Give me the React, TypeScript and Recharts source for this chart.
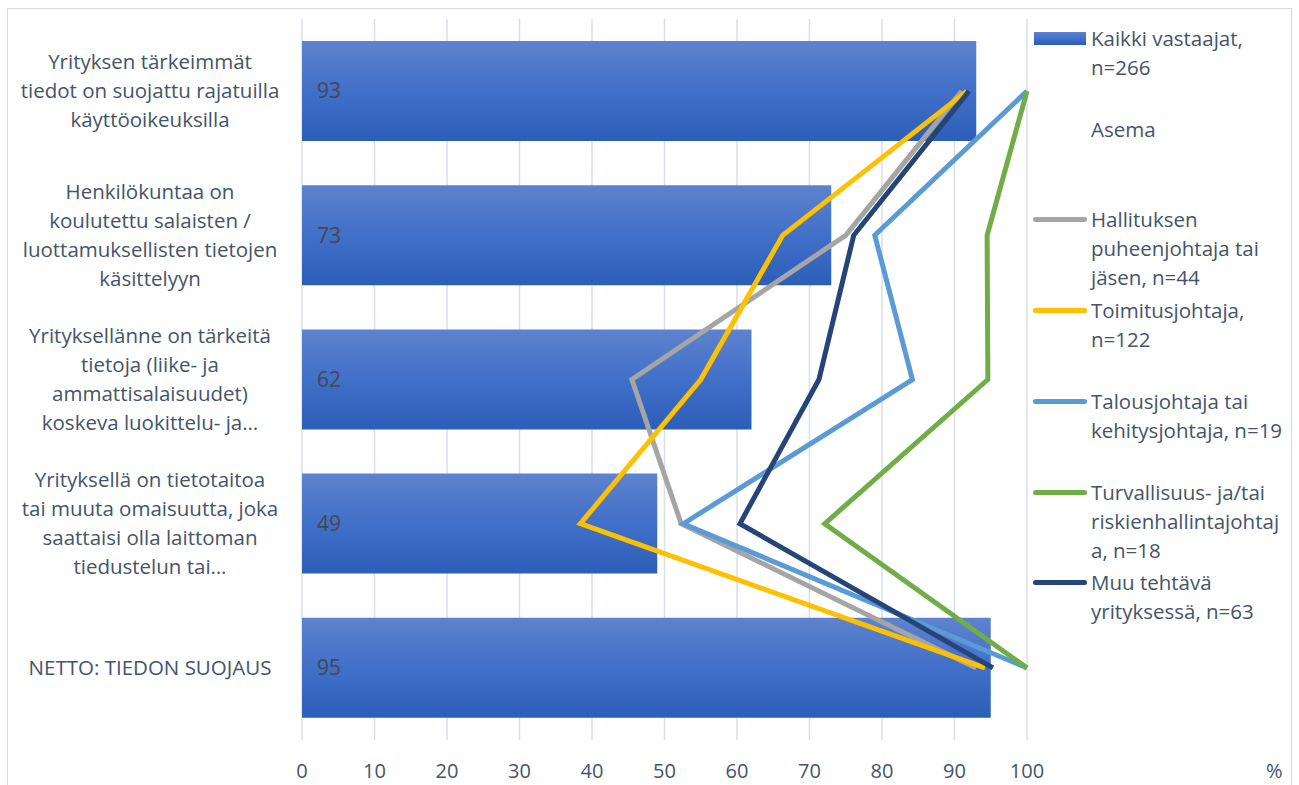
import React from "react";
import {
  ComposedChart,
  Bar,
  Line,
  XAxis,
  YAxis,
  CartesianGrid,
  LabelList,
} from "recharts";

// Questions shown on the category axis (wrapped lines)
const categoryLines: string[][] = [
  ["Yrityksen tärkeimmät", "tiedot on suojattu rajatuilla", "käyttöoikeuksilla"],
  ["Henkilökuntaa on", "koulutettu salaisten /", "luottamuksellisten tietojen", "käsittelyyn"],
  ["Yrityksellänne on tärkeitä", "tietoja (liike- ja", "ammattisalaisuudet)", "koskeva luokittelu- ja…"],
  ["Yrityksellä on tietotaitoa", "tai muuta omaisuutta, joka", "saattaisi olla laittoman", "tiedustelun tai…"],
  ["NETTO: TIEDON SUOJAUS"],
];
const categories = categoryLines.map((l) => l.join(" "));

// Percentages
const allRespondents = [93, 73, 62, 49, 95];
const boardMember = [91, 75, 45.5, 52.3, 93];
const ceo = [91.7, 66.3, 55, 38.4, 94.2];
const financeDirector = [100, 79, 84.2, 52.6, 100];
const securityDirector = [100, 94.5, 94.6, 72.1, 100];
const otherRole = [92, 76.1, 71.3, 60.4, 95.3];

const xTicks = [0, 10, 20, 30, 40, 50, 60, 70, 80, 90, 100];

const lineSeries = [
  { key: "board", color: "#A5A5A5", lines: ["Hallituksen", "puheenjohtaja tai", "jäsen, n=44"] },
  { key: "ceo", color: "#FFC000", lines: ["Toimitusjohtaja,", "n=122"] },
  { key: "finance", color: "#5B9BD5", lines: ["Talousjohtaja tai", "kehitysjohtaja, n=19"] },
  { key: "security", color: "#70AD47", lines: ["Turvallisuus- ja/tai", "riskienhallintajohtaj", "a, n=18"] },
  { key: "other", color: "#264478", lines: ["Muu tehtävä", "yrityksessä, n=63"] },
];

const data = categories.map((name, i) => ({
  name,
  all: allRespondents[i],
  board: boardMember[i],
  ceo: ceo[i],
  finance: financeDirector[i],
  security: securityDirector[i],
  other: otherRole[i],
}));

const FONT = "'Open Sans', sans-serif";
const TEXT = "#44546A";

const CategoryTick = (props: any) => {
  const { x, y, index } = props;
  const lines = categoryLines[index] || [];
  const lh = 29;
  const y0 = y - ((lines.length - 1) * lh) / 2;
  const cx = x - 144;
  return (
    <text x={cx} y={y0} textAnchor="middle" fill={TEXT} fontSize={20.5} fontFamily={FONT}>
      {lines.map((l, i) => (
        <tspan key={i} x={cx} y={y0 + i * lh} dy="0.35em">
          {l}
        </tspan>
      ))}
    </text>
  );
};

const legendRow = 90.7;
const legendLH = 29;

const LegendBlock = () => {
  const entries = [
    { kind: "bar", color: "", lines: ["Kaikki vastaajat,", "n=266"] },
    { kind: "none", color: "", lines: ["Asema"] },
    ...lineSeries.map((s) => ({ kind: "line", color: s.color, lines: s.lines })),
  ];
  return (
    <div style={{ position: "absolute", left: 1033, top: 24, width: 262, fontFamily: FONT, fontSize: 20.5, color: TEXT }}>
      {entries.map((e, i) => (
        <div key={i} style={{ position: "absolute", top: i * legendRow, left: 0, width: 262 }}>
          {e.kind === "bar" && (
            <div
              style={{
                position: "absolute",
                left: 1,
                top: 8,
                width: 52,
                height: 13,
                background: "linear-gradient(#5E82CE, #4170C8 50%, #2C5EB8)",
              }}
            />
          )}
          {e.kind === "line" && (
            <div
              style={{
                position: "absolute",
                left: 0,
                top: 12,
                width: 54,
                height: 5,
                borderRadius: 3,
                background: e.color,
              }}
            />
          )}
          <div style={{ position: "absolute", left: 58, top: 0, lineHeight: `${legendLH}px`, whiteSpace: "nowrap" }}>
            {e.lines.map((l, j) => (
              <div key={j}>{l}</div>
            ))}
          </div>
        </div>
      ))}
    </div>
  );
};

export default function App() {
  return (
    <div style={{ position: "absolute", left: 0, top: 0, width: 1299, height: 785, background: "#fff", overflow: "hidden" }}>
      <div
        style={{
          position: "absolute",
          left: 7,
          top: 8,
          width: 1285,
          height: 800,
          border: "1.5px solid #D9D9D9",
          boxSizing: "border-box",
        }}
      />
      <ComposedChart
        width={1299}
        height={785}
        data={data}
        layout="vertical"
        margin={{ top: 19, right: 272, bottom: 15, left: 7 }}
        style={{ position: "absolute", left: 0, top: 0 }}
      >
        <defs>
          <linearGradient id="barFill" x1="0" y1="0" x2="0" y2="1">
            <stop offset="0%" stopColor="#5E82CE" />
            <stop offset="50%" stopColor="#4170C8" />
            <stop offset="100%" stopColor="#2C5EB8" />
          </linearGradient>
        </defs>
        <CartesianGrid horizontal={false} stroke="#D9DEE7" strokeWidth={1.5} />
        <XAxis
          type="number"
          domain={[0, 100]}
          ticks={xTicks}
          interval={0}
          axisLine={false}
          tickLine={false}
          tickMargin={18}
          height={30}
          tick={{ fill: TEXT, fontSize: 20, fontFamily: FONT }}
        />
        <YAxis
          type="category"
          dataKey="name"
          width={295}
          axisLine={false}
          tickLine={false}
          interval={0}
          tick={<CategoryTick />}
        />
        <Bar dataKey="all" fill="url(#barFill)" barSize={100} isAnimationActive={false}>
          <LabelList
            dataKey="all"
            position="insideLeft"
            offset={15}
            fill="#43484F"
            fontSize={21}
            fontFamily={FONT}
          />
        </Bar>
        {lineSeries.map((s) => (
          <Line
            key={s.key}
            dataKey={s.key}
            type="linear"
            stroke={s.color}
            strokeWidth={5}
            dot={false}
            activeDot={false}
            isAnimationActive={false}
          />
        ))}
      </ComposedChart>
      <LegendBlock />
      <div style={{ position: "absolute", left: 1266, top: 757, fontFamily: FONT, fontSize: 20, color: TEXT }}>%</div>
    </div>
  );
}
